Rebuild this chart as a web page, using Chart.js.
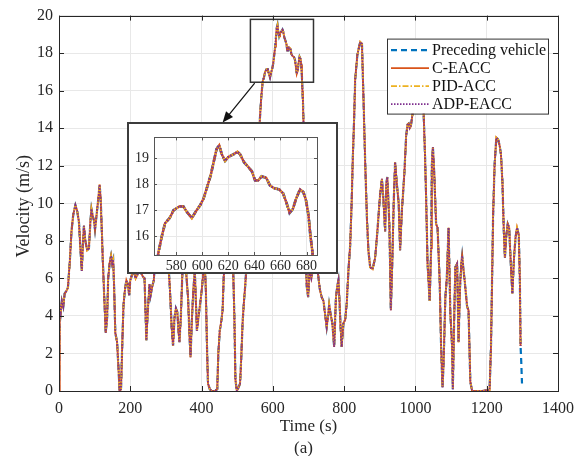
<!DOCTYPE html>
<html>
<head>
<meta charset="utf-8">
<script src="https://cdn.jsdelivr.net/npm/chart.js@4.4.0/dist/chart.umd.min.js"></script>
<style>
  body { margin: 0; background: #fff; }
  #wrap { position: relative; width: 586px; height: 456px; }
  #inset { position: absolute; left: 127px; top: 122px; width: 211px; height: 152px;
           box-sizing: border-box; border: 2px solid #3c3c3c; background: #fff; }
  canvas { display: block; }
</style>
</head>
<body>
<div id="wrap">
  <canvas id="main" width="586" height="456"></canvas>
  <div id="inset"><canvas id="zoom" width="207" height="148"></canvas></div>
</div>
<script>
// time (s) and preceding-vehicle speed (m/s)
const timeS = [
  0, 2, 5, 8, 12, 16, 20, 25, 30, 35,
  40, 46, 51, 56, 60, 64, 67, 70, 74, 79,
  84, 88, 91, 95, 98, 101, 105, 110, 114, 117,
  120, 123, 127, 131, 135, 138, 142, 146, 149, 152,
  155, 158, 163, 167, 170, 174, 178, 181, 185, 189,
  193, 197, 200, 205, 210, 215, 220, 225, 230, 235,
  240, 245, 249, 254, 257, 262, 266, 270, 276, 282,
  288, 294, 300, 305, 311, 316, 320, 324, 328, 332,
  336, 338, 342, 346, 350, 354, 358, 362, 366, 369,
  373, 377, 381, 384, 387, 391, 395, 400, 404, 408,
  412, 415, 418, 423, 428, 438, 444, 447, 451, 456,
  459, 462, 466, 472, 478, 484, 489, 492, 495, 499,
  504, 508, 511, 515, 519, 522, 526, 532, 538, 544,
  550, 555, 560, 563, 566.5, 569, 571.5, 575, 578, 582.5,
  585.5, 588, 592, 595, 598.5, 601, 603.5, 606.5, 608.5, 611,
  613, 615, 617.5, 620, 624, 627, 629, 632, 635.5, 638,
  640.5, 643, 645.5, 649, 652, 655, 659, 662, 664.5, 667,
  669.5, 672, 675, 677.5, 679.5, 681.5, 683, 684.5, 686, 688,
  691, 695, 699, 703, 708, 713, 718, 722, 727, 732,
  737, 742, 747, 751, 755, 758, 762, 767, 772, 777,
  781, 784, 787, 790, 793, 798, 803, 807, 812, 817,
  821, 824, 828, 831, 837, 845, 850, 854, 859, 864,
  868, 873, 880, 887, 894, 901, 906, 910, 915, 918,
  921, 924, 927, 931, 935, 939, 943, 948, 953, 957,
  962, 969, 974, 978, 981, 984, 987, 993, 998, 1003,
  1010, 1017, 1023, 1027, 1030, 1034, 1040, 1044, 1046, 1049,
  1053, 1058, 1062, 1068, 1072, 1076, 1079, 1084, 1088, 1093,
  1098, 1103, 1105, 1109, 1112, 1117, 1121, 1125, 1129, 1131,
  1134, 1138, 1145, 1149, 1154, 1159, 1185, 1208, 1212, 1218,
  1222, 1227, 1232, 1236, 1240, 1244, 1248, 1251, 1255, 1259,
  1263, 1268, 1272, 1277, 1281, 1285, 1290, 1293, 1295, 1297, 1299
]
const velPreceding = [
  0, 4.6, 4.2, 4.8, 4.5, 5.2, 5.3, 5.5, 6.8, 8.5,
  9.4, 9.9, 9.6, 9.0, 7.6, 6.4, 7.8, 8.8, 8.0, 7.5,
  7.6, 9.0, 9.7, 9.3, 9.1, 8.6, 9.3, 10.2, 11.0, 10.2,
  8.6, 6.9, 5.0, 3.1, 3.9, 6.0, 6.8, 7.2, 6.8, 7.0,
  5.3, 3.1, 2.6, 1.2, 0, 0.1, 2.8, 4.6, 5.4, 5.9,
  5.7, 5.1, 5.9, 6.2, 6.4, 6.0, 6.2, 6.6, 6.3, 6.1,
  6.0, 2.7, 4.2, 5.7, 5.1, 5.6, 5.9, 7.2, 8.5, 9.2,
  8.8, 9.5, 8.6, 7.4, 5.5, 3.4, 2.4, 3.9, 4.4, 4.2,
  3.0, 2.6, 4.0, 6.2, 7.6, 7.0, 6.0, 5.0, 3.0, 1.8,
  3.9, 5.4, 6.4, 4.8, 3.2, 3.9, 4.5, 5.3, 6.1, 7.2,
  5.4, 2.5, 0.4, 0.1, 0, 0, 0.1, 2.0, 3.2, 3.8,
  4.3, 6.0, 7.5, 8.8, 9.5, 8.0, 6.2, 4.0, 0.6, 0,
  0.2, 0.4, 1.6, 3.6, 4.8, 5.5, 6.6, 8.4, 10.2, 11.3,
  10.8, 11.9, 13.2, 14.3, 15.4, 16.0, 16.5, 16.7, 17.0, 17.15,
  17.15, 16.95, 16.7, 16.95, 17.2, 17.45, 17.85, 18.35, 18.8, 19.35,
  19.5, 19.15, 18.9, 19.05, 19.15, 19.25, 19.15, 18.85, 18.65, 18.5,
  18.15, 18.15, 18.3, 18.25, 17.95, 17.85, 17.8, 17.65, 17.3, 16.9,
  17.05, 17.45, 17.8, 17.7, 17.4, 16.8, 16.0, 15.4, 14.3, 12.0,
  8.6, 5.6, 5.0, 6.4, 6.0, 6.6, 6.9, 6.5, 6.2, 5.4,
  5.0, 4.8, 4.0, 3.4, 4.0, 4.6, 4.1, 3.6, 2.35, 5.0,
  5.6, 5.9, 4.8, 3.4, 2.35, 3.6, 3.8, 4.6, 6.4, 7.8,
  10.0, 12.2, 14.5, 16.6, 17.9, 18.6, 18.5, 15.8, 12.2, 9.2,
  7.5, 6.6, 6.5, 7.1, 8.7, 10.5, 11.3, 10.2, 8.5, 11.0,
  11.4, 10.2, 8.8, 4.3, 6.8, 10.0, 12.2, 11.0, 10.0, 7.5,
  9.6, 11.6, 13.6, 14.2, 14.25, 14.0, 14.1, 14.9, 15.8, 16.5,
  16.2, 15.6, 14.8, 12.5, 10.3, 6.8, 4.8, 7.6, 12.0, 13.0,
  11.5, 8.9, 8.7, 5.9, 2.35, 0.2, 1.5, 5.0, 6.0, 8.7,
  4.1, 2.35, 0.1, 4.1, 6.6, 6.8, 2.6, 5.5, 6.85, 7.2,
  6.6, 5.9, 4.5, 4.3, 0.5, 0, 0, 0.05, 2.35, 9.4,
  12.0, 13.5, 13.4, 13.1, 12.6, 11.2, 8.5, 7.1, 8.3, 8.9,
  8.7, 6.6, 5.2, 7.25, 8.2, 8.7, 8.3, 5.9, 2.4, 1.5, 0.4
]
// the three controllers follow the leader within a line width; they stop a little earlier
const followLen = 309
const velCEACC = velPreceding.slice(0, followLen)
const velPID = velPreceding.slice(0, followLen)
const velADP = velPreceding.slice(0, followLen)

const seriesNames = ['Preceding vehicle', 'C-EACC', 'PID-ACC', 'ADP-EACC']
const xTicks = [0, 200, 400, 600, 800, 1000, 1200, 1400]
const yTicks = [0, 2, 4, 6, 8, 10, 12, 14, 16, 18, 20]
const zoomXTicks = [580, 600, 620, 640, 660, 680]
const zoomYTicks = [16, 17, 18, 19]
const zoomXRange = [563, 688]
const zoomYRange = [15.28, 19.8]
const boxT = [537, 714]      // zoom window drawn on the main axes
const boxV = [16.45, 19.8]
const arrowFrom = [549, 16.4]
const arrowTo = [459, 14.3]

const serif = "'Liberation Serif', 'Times New Roman', serif"
const ink = '#262626'
const styles = [
  { color: '#0072BD', dash: [6, 4], width: 2.2, order: 4 },
  { color: '#D95319', dash: [], width: 1.9, order: 3 },
  { color: '#EDB120', dash: [6, 2, 1.5, 2], width: 1.7, order: 2 },
  { color: '#7E2F8E', dash: [1.5, 1.5], width: 1.7, order: 1 }
]
const series = [velPreceding, velCEACC, velPID, velADP]

const makeSets = (scale) => series.map((vals, i) => ({
  label: seriesNames[i],
  data: vals.map((v, j) => ({ x: timeS[j], y: v })),
  borderColor: styles[i].color,
  borderDash: styles[i].dash,
  borderWidth: styles[i].width * scale,
  order: styles[i].order,
  pointRadius: 0,
  tension: 0,
  fill: false
}))

const boxAndTicks = (chart, len, color) => {
  const { ctx, chartArea: a, scales: { x, y } } = chart
  ctx.save()
  ctx.strokeStyle = color
  ctx.lineWidth = 1
  ctx.beginPath()
  x.ticks.forEach(t => {
    const px = Math.round(x.getPixelForValue(t.value)) + 0.5
    ctx.moveTo(px, a.bottom); ctx.lineTo(px, a.bottom - len)
    ctx.moveTo(px, a.top); ctx.lineTo(px, a.top + len)
  })
  y.ticks.forEach(t => {
    const py = Math.round(y.getPixelForValue(t.value)) + 0.5
    ctx.moveTo(a.left, py); ctx.lineTo(a.left + len, py)
    ctx.moveTo(a.right, py); ctx.lineTo(a.right - len, py)
  })
  ctx.stroke()
  ctx.strokeRect(Math.round(a.left) + 0.5, Math.round(a.top) + 0.5,
    Math.round(a.right - a.left), Math.round(a.bottom - a.top))
  ctx.restore()
}

const mainDecor = {
  id: 'mainDecor',
  afterDatasetsDraw(chart) {
    const { ctx, scales: { x, y } } = chart
    ctx.save()
    ctx.strokeStyle = '#333'
    ctx.lineWidth = 1.5
    const x1 = x.getPixelForValue(boxT[0]), x2 = x.getPixelForValue(boxT[1])
    const y1 = y.getPixelForValue(boxV[1]), y2 = y.getPixelForValue(boxV[0])
    ctx.strokeRect(x1, y1, x2 - x1, y2 - y1)
    // arrow to the inset
    const fx = x.getPixelForValue(arrowFrom[0]), fy = y.getPixelForValue(arrowFrom[1])
    const tx = x.getPixelForValue(arrowTo[0]), ty = y.getPixelForValue(arrowTo[1])
    const ang = Math.atan2(ty - fy, tx - fx)
    ctx.strokeStyle = '#111'
    ctx.lineWidth = 1.2
    ctx.beginPath()
    ctx.moveTo(fx, fy)
    ctx.lineTo(tx - 9 * Math.cos(ang), ty - 9 * Math.sin(ang))
    ctx.stroke()
    ctx.fillStyle = '#111'
    ctx.beginPath()
    ctx.moveTo(tx, ty)
    ctx.lineTo(tx - 11 * Math.cos(ang) + 4.5 * Math.sin(ang), ty - 11 * Math.sin(ang) - 4.5 * Math.cos(ang))
    ctx.lineTo(tx - 11 * Math.cos(ang) - 4.5 * Math.sin(ang), ty - 11 * Math.sin(ang) + 4.5 * Math.cos(ang))
    ctx.closePath()
    ctx.fill()
    ctx.restore()
  },
  afterDraw(chart) {
    const { ctx, chartArea: a } = chart
    boxAndTicks(chart, 5, ink)
    // legend
    ctx.save()
    const lx = a.right - 171, ly = a.top + 23, lw = 161, lh = 75
    ctx.fillStyle = '#fff'
    ctx.fillRect(lx, ly, lw, lh)
    ctx.strokeStyle = '#333'
    ctx.lineWidth = 1
    ctx.strokeRect(lx + 0.5, ly + 0.5, lw, lh)
    ctx.font = '16px ' + serif
    ctx.textBaseline = 'middle'
    seriesNames.forEach((name, i) => {
      const ry = ly + 11.5 + i * 18
      ctx.strokeStyle = styles[i].color
      ctx.lineWidth = styles[i].width
      ctx.setLineDash(styles[i].dash)
      ctx.beginPath()
      ctx.moveTo(lx + 4, ry); ctx.lineTo(lx + 42, ry)
      ctx.stroke()
      ctx.setLineDash([])
      ctx.fillStyle = '#111'
      ctx.fillText(name, lx + 45, ry + 1)
    })
    // axis titles
    ctx.fillStyle = ink
    ctx.textAlign = 'center'
    ctx.font = '17px ' + serif
    const cx = (a.left + a.right) / 2
    ctx.fillText('Time (s)', cx, 427)
    ctx.fillText('(a)', cx - 5, 449)
    ctx.translate(24, (a.top + a.bottom) / 2 + 3)
    ctx.rotate(-Math.PI / 2)
    ctx.font = '18px ' + serif
    ctx.fillText('Velocity (m/s)', 0, 0)
    ctx.restore()
  }
}

const setTicks = list => scale => { scale.ticks = list.map(v => ({ value: v })) }
const plain = v => String(v)

new Chart(document.getElementById('main'), {
  type: 'line',
  data: { datasets: makeSets(1) },
  options: {
    responsive: false,
    animation: false,
    layout: { padding: { left: 0, right: 28, top: 13, bottom: 0 } },
    plugins: { legend: { display: false }, tooltip: { enabled: false } },
    scales: {
      x: {
        type: 'linear', min: 0, max: 1400,
        afterBuildTicks: setTicks(xTicks),
        afterFit: s => { s.height = 65 },
        grid: { color: '#e8e8e8', drawTicks: false },
        border: { display: false },
        ticks: { color: ink, font: { family: serif, size: 16 }, padding: 8, maxRotation: 0, callback: plain }
      },
      y: {
        type: 'linear', min: 0, max: 20,
        afterBuildTicks: setTicks(yTicks),
        afterFit: s => { s.width = 59 },
        grid: { color: '#e8e8e8', drawTicks: false },
        border: { display: false },
        ticks: { color: ink, font: { family: serif, size: 16 }, padding: 6, callback: plain }
      }
    }
  },
  plugins: [mainDecor]
})

new Chart(document.getElementById('zoom'), {
  type: 'line',
  data: { datasets: makeSets(1.25) },
  options: {
    responsive: false,
    animation: false,
    layout: { padding: { left: 0, right: 19, top: 10, bottom: 0 } },
    plugins: { legend: { display: false }, tooltip: { enabled: false } },
    scales: {
      x: {
        type: 'linear', min: zoomXRange[0], max: zoomXRange[1],
        afterBuildTicks: setTicks(zoomXTicks),
        afterFit: s => { s.height = 17 },
        grid: { color: '#e8e8e8', drawTicks: false },
        border: { display: false },
        ticks: { color: ink, font: { family: serif, size: 14 }, padding: 3, maxRotation: 0, callback: plain }
      },
      y: {
        type: 'linear', min: zoomYRange[0], max: zoomYRange[1],
        afterBuildTicks: setTicks(zoomYTicks),
        afterFit: s => { s.width = 25 },
        grid: { color: '#e8e8e8', drawTicks: false },
        border: { display: false },
        ticks: { color: ink, font: { family: serif, size: 14 }, padding: 5, callback: plain }
      }
    }
  },
  plugins: [{ id: 'zoomBox', afterDraw: c => boxAndTicks(c, 3, '#555') }]
})
</script>
</body>
</html>
